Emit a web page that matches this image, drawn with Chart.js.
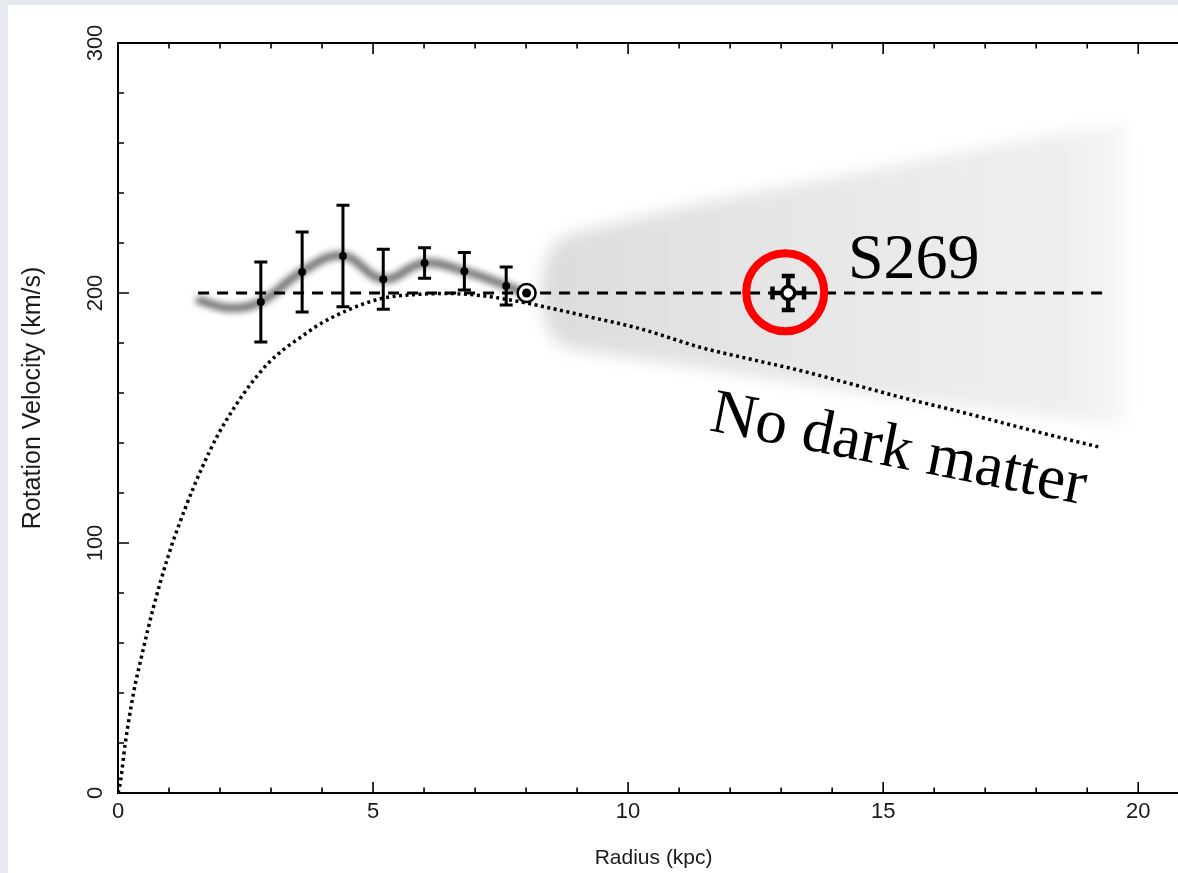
<!DOCTYPE html>
<html>
<head>
<meta charset="utf-8">
<script src="https://cdn.jsdelivr.net/npm/chart.js@4.4.1/dist/chart.umd.min.js"></script>
<style>
html,body{margin:0;padding:0;background:#fff;overflow:hidden;}
#wrap{position:absolute;left:0;top:0;width:1178px;height:873px;}
</style>
</head>
<body>
<div id="wrap"><canvas id="c" width="1178" height="873"></canvas></div>
<script>
// ---------- axis labels ----------
const xTickValues = [0, 5, 10, 15, 20];
const xTickLabels = ['0', '5', '10', '15', '20'];
const yTickValues = [0, 100, 200, 300];
const yTickLabels = ['0', '100', '200', '300'];
const xAxisTitle = 'Radius (kpc)';
const yAxisTitle = 'Rotation Velocity (km/s)';

// ---------- observed rotation curve (points with error bars) ----------
const obsRadius   = [2.80, 3.61, 4.41, 5.20, 6.01, 6.79, 7.61];
const obsVelocity = [196.4, 208.4, 214.8, 205.5, 212.0, 208.7, 202.8];
const obsError    = [16, 16, 20.3, 12, 6.1, 7.5, 7.6];

// ---------- smoothed (blurred) fit through the data ----------
const fitRadius   = [1.60, 2.20, 2.80, 3.60, 4.40, 5.20, 6.00, 6.80, 7.60, 7.85];
const fitVelocity = [197, 194, 196.5, 208.5, 215, 205.5, 212, 208.7, 203, 201];

// ---------- flat rotation (dashed) ----------
const flatRadius   = [1.57, 19.31];
const flatVelocity = [200, 200];

// ---------- "No dark matter" curve (dotted) ----------
const keplerRadius   = [0, 0.05, 0.14, 0.30, 0.48, 0.69, 0.98, 1.31, 1.64, 1.96, 2.28, 2.61, 2.94, 3.27, 3.59, 3.92, 4.49, 5.14, 5.78, 6.44, 7.10, 7.75, 8.40, 9.27, 10.24, 11.41, 12.36, 13.37, 14.36, 15.33, 16.35, 17.30, 18.25, 19.25];
const keplerVelocity = [0, 4.8, 19.5, 39.5, 56.2, 73.9, 94.5, 113.5, 129.8, 143.3, 154.2, 163.8, 171.8, 177.8, 182.4, 187.1, 193.0, 197.7, 199.3, 199.8, 199.0, 197.0, 194.3, 190.3, 185.7, 178.3, 173.7, 169.0, 163.7, 158.4, 153.3, 148.3, 143.3, 138.3];

// ---------- uncertainty wedge outline (grey): upper edge left->right, lower edge right->left ----------
const wedgeRadius   = [8.30, 8.45, 8.75, 11.4, 14.6, 17.3, 19.75, 19.75, 17.3, 14.6, 11.4, 8.75, 8.45, 8.30];
const wedgeVelocity = [206, 217, 223, 236, 248.5, 259.5, 268.5, 147, 153, 160, 170, 178, 184, 194];

// ---------- Sun ----------
const sunRadius   = [8.01];
const sunVelocity = [200];

// ---------- S269 ----------
const s269Radius   = [13.14];
const s269Velocity = [200];
const s269RadiusError   = [0.31];
const s269VelocityError = [6.8];
const highlightRadius   = [13.08];
const highlightVelocity = [200.3];

// ---------- annotations ----------
const annotationTexts = ['S269', 'No dark matter'];

const pts = (xs, ys) => xs.map((x, i) => ({x: x, y: ys[i]}));

const SANS = '"Liberation Sans", Arial, Helvetica, sans-serif';
const SERIF = '"Liberation Serif", "Times New Roman", Times, serif';

function drawVErrorBars(chart, xs, ys, errs, cap, lw) {
  const ctx = chart.ctx, sx = chart.scales.x, sy = chart.scales.y;
  ctx.save();
  ctx.strokeStyle = '#000';
  ctx.lineWidth = lw;
  ctx.lineCap = 'butt';
  xs.forEach((r, i) => {
    const x = sx.getPixelForValue(r);
    const y1 = sy.getPixelForValue(ys[i] - errs[i]);
    const y2 = sy.getPixelForValue(ys[i] + errs[i]);
    ctx.beginPath();
    ctx.moveTo(x, y1); ctx.lineTo(x, y2);
    ctx.moveTo(x - cap, y1); ctx.lineTo(x + cap, y1);
    ctx.moveTo(x - cap, y2); ctx.lineTo(x + cap, y2);
    ctx.stroke();
  });
  ctx.restore();
}
function drawHErrorBars(chart, xs, ys, errs, cap, lw) {
  const ctx = chart.ctx, sx = chart.scales.x, sy = chart.scales.y;
  ctx.save();
  ctx.strokeStyle = '#000';
  ctx.lineWidth = lw;
  xs.forEach((r, i) => {
    const y = sy.getPixelForValue(ys[i]);
    const x1 = sx.getPixelForValue(r - errs[i]);
    const x2 = sx.getPixelForValue(r + errs[i]);
    ctx.beginPath();
    ctx.moveTo(x1, y); ctx.lineTo(x2, y);
    ctx.moveTo(x1, y - cap); ctx.lineTo(x1, y + cap);
    ctx.moveTo(x2, y - cap); ctx.lineTo(x2, y + cap);
    ctx.stroke();
  });
  ctx.restore();
}

const framePlugin = {
  id: 'frame',
  beforeDraw(chart) {
    const ctx = chart.ctx;
    ctx.save();
    ctx.fillStyle = '#e6e9f0';
    ctx.fillRect(0, 0, chart.width, chart.height);
    ctx.fillStyle = '#ffffff';
    ctx.fillRect(8, 5, chart.width - 8, chart.height - 5);
    ctx.restore();
  },
  beforeDatasetsDraw(chart) {
    chart.ctx.filter = 'blur(8px)';
  },
  beforeDatasetDraw(chart, args) {
    const ds = chart.data.datasets[args.index];
    chart.ctx.filter = ds.blurPx ? 'blur(' + ds.blurPx + 'px)' : 'none';
    if (ds.errorKind === 'obs') {
      chart.ctx.filter = 'none';
      drawVErrorBars(chart, obsRadius, obsVelocity, obsError, 6.5, 3);
    } else if (ds.errorKind === 's269') {
      chart.ctx.filter = 'none';
      drawHErrorBars(chart, s269Radius, s269Velocity, s269RadiusError, 6.5, 4.5);
      drawVErrorBars(chart, s269Radius, s269Velocity, s269VelocityError, 6.5, 4.5);
    }
  },
  afterDatasetsDraw(chart) {
    chart.ctx.filter = 'none';
  },
  afterDraw(chart) {
    const ctx = chart.ctx, a = chart.chartArea, sx = chart.scales.x, sy = chart.scales.y;
    ctx.save();
    ctx.filter = 'none';
    ctx.strokeStyle = '#000';
    ctx.lineWidth = 2;
    // top frame line
    ctx.beginPath();
    ctx.moveTo(a.left, a.top); ctx.lineTo(a.right, a.top);
    ctx.stroke();
    // inward tick marks (minor every 1 kpc / 20 km/s)
    ctx.lineWidth = 1.6;
    ctx.beginPath();
    for (let v = 0; v <= 20; v += 1) {
      const x = sx.getPixelForValue(v);
      const L = (v % 5 === 0) ? 11 : 5.5;
      ctx.moveTo(x, a.bottom); ctx.lineTo(x, a.bottom - L);
      ctx.moveTo(x, a.top); ctx.lineTo(x, a.top + L);
    }
    for (let v = 0; v <= 300; v += 20) {
      const y = sy.getPixelForValue(v);
      const L = (v % 100 === 0) ? 11 : 6;
      ctx.moveTo(a.left, y); ctx.lineTo(a.left + L, y);
    }
    ctx.stroke();
    // y tick labels (rotated)
    ctx.fillStyle = '#1a1a1a';
    ctx.font = '22px ' + SANS;
    ctx.textAlign = 'center';
    ctx.textBaseline = 'middle';
    yTickValues.forEach((v, i) => {
      ctx.save();
      ctx.translate(a.left - 22, sy.getPixelForValue(v));
      ctx.rotate(-Math.PI / 2);
      ctx.fillText(yTickLabels[i], 0, 0);
      ctx.restore();
    });
    // axis titles
    ctx.font = '21px ' + SANS;
    ctx.fillText(xAxisTitle, sx.getPixelForValue(10.5), 858);
    ctx.save();
    ctx.font = '25px ' + SANS;
    ctx.translate(33, sy.getPixelForValue(158));
    ctx.rotate(-Math.PI / 2);
    ctx.fillText(yAxisTitle, 0, 0);
    ctx.restore();
    // annotations
    ctx.fillStyle = '#000';
    ctx.textAlign = 'left';
    ctx.textBaseline = 'alphabetic';
    ctx.font = '64px ' + SERIF;
    ctx.fillText(annotationTexts[0], sx.getPixelForValue(14.31), sy.getPixelForValue(205.9));
    ctx.save();
    ctx.translate(sx.getPixelForValue(11.57), sy.getPixelForValue(145.1));
    ctx.rotate(11.2 * Math.PI / 180);
    ctx.font = '63px ' + SERIF;
    ctx.fillText(annotationTexts[1], 0, 0);
    ctx.restore();
    ctx.restore();
  }
};

const ctxC = document.getElementById('c').getContext('2d');

function wedgeGradient(context) {
  const chart = context.chart;
  const sx = chart.scales.x;
  if (!sx || !chart.chartArea) return '#e6e6e6';
  const x0 = sx.getPixelForValue(8.3);
  const x1 = sx.getPixelForValue(19.75);
  const g = chart.ctx.createLinearGradient(x0, 0, x1, 0);
  g.addColorStop(0, '#dcdcdc');
  g.addColorStop(0.4, '#e6e6e6');
  g.addColorStop(0.9, '#efefef');
  g.addColorStop(1, '#f6f6f6');
  return g;
}

new Chart(ctxC, {
  type: 'line',
  data: {
    datasets: [
      { // grey wedge (closed shape)
        data: pts(wedgeRadius, wedgeVelocity), order: 10, blurPx: 8, indexAxis: 'y',
        borderWidth: 0, pointRadius: 0, fill: 'shape', tension: 0,
        backgroundColor: wedgeGradient, borderColor: 'rgba(0,0,0,0)'
      },
      { // blurred fit
        data: pts(fitRadius, fitVelocity), order: 9, blurPx: 3,
        borderColor: 'rgba(75,75,75,0.8)', borderWidth: 8, pointRadius: 0,
        tension: 0.4, fill: false, borderCapStyle: 'round'
      },
      { // no dark matter (dotted)
        data: pts(keplerRadius, keplerVelocity), order: 8,
        borderColor: '#000', borderWidth: 3.5, borderDash: [3, 3.5], pointRadius: 0,
        cubicInterpolationMode: 'monotone', fill: false
      },
      { // flat dashed
        data: pts(flatRadius, flatVelocity), order: 7,
        borderColor: '#000', borderWidth: 3, borderDash: [11, 8], pointRadius: 0, fill: false
      },
      { // observed points
        data: pts(obsRadius, obsVelocity), order: 6, errorKind: 'obs',
        showLine: false, pointRadius: 4, pointBackgroundColor: '#000', pointBorderWidth: 0
      },
      { // Sun ring
        data: pts(sunRadius, sunVelocity), order: 5,
        showLine: false, pointRadius: 9, pointBackgroundColor: '#fff', pointBorderColor: '#000', pointBorderWidth: 2.5
      },
      { // Sun core
        data: pts(sunRadius, sunVelocity), order: 4,
        showLine: false, pointRadius: 4.5, pointBackgroundColor: '#000', pointBorderWidth: 0
      },
      { // S269
        data: pts(s269Radius, s269Velocity), order: 3, errorKind: 's269',
        showLine: false, pointRadius: 6.5, pointBackgroundColor: '#fff', pointBorderColor: '#000', pointBorderWidth: 3.5
      },
      { // red highlight ring
        data: pts(highlightRadius, highlightVelocity), order: 2,
        showLine: false, pointRadius: 39, pointBackgroundColor: 'rgba(0,0,0,0)', pointBorderColor: '#ff0000', pointBorderWidth: 8
      }
    ]
  },
  options: {
    responsive: false,
    devicePixelRatio: 1,
    animation: false,
    events: [],
    layout: { autoPadding: false, padding: { top: 43, right: 0, bottom: 0, left: 0 } },
    plugins: {
      legend: { display: false },
      tooltip: { enabled: false },
      filler: { drawTime: 'beforeDatasetDraw', propagate: false }
    },
    scales: {
      x: {
        type: 'linear', position: 'bottom', min: 0, max: 20.78,
        afterBuildTicks: (s) => { s.ticks = xTickValues.map(v => ({value: v})); },
        afterFit: (s) => { s.height = 80; s.paddingLeft = 0; s.paddingRight = 0; },
        ticks: {
          includeBounds: false, padding: 6, color: '#1a1a1a',
          font: { family: SANS, size: 22 },
          callback: (v) => { const i = xTickValues.indexOf(v); return i >= 0 ? xTickLabels[i] : ''; }
        },
        grid: { drawOnChartArea: false, drawTicks: false },
        border: { display: true, color: '#000', width: 2 }
      },
      y: {
        type: 'linear', min: 0, max: 300,
        afterBuildTicks: (s) => { s.ticks = yTickValues.map(v => ({value: v})); },
        afterFit: (s) => { s.width = 118; s.paddingTop = 0; s.paddingBottom = 0; },
        ticks: { display: false },
        grid: { drawOnChartArea: false, drawTicks: false },
        border: { display: true, color: '#000', width: 2 }
      }
    }
  },
  plugins: [framePlugin]
});
</script>
</body>
</html>
